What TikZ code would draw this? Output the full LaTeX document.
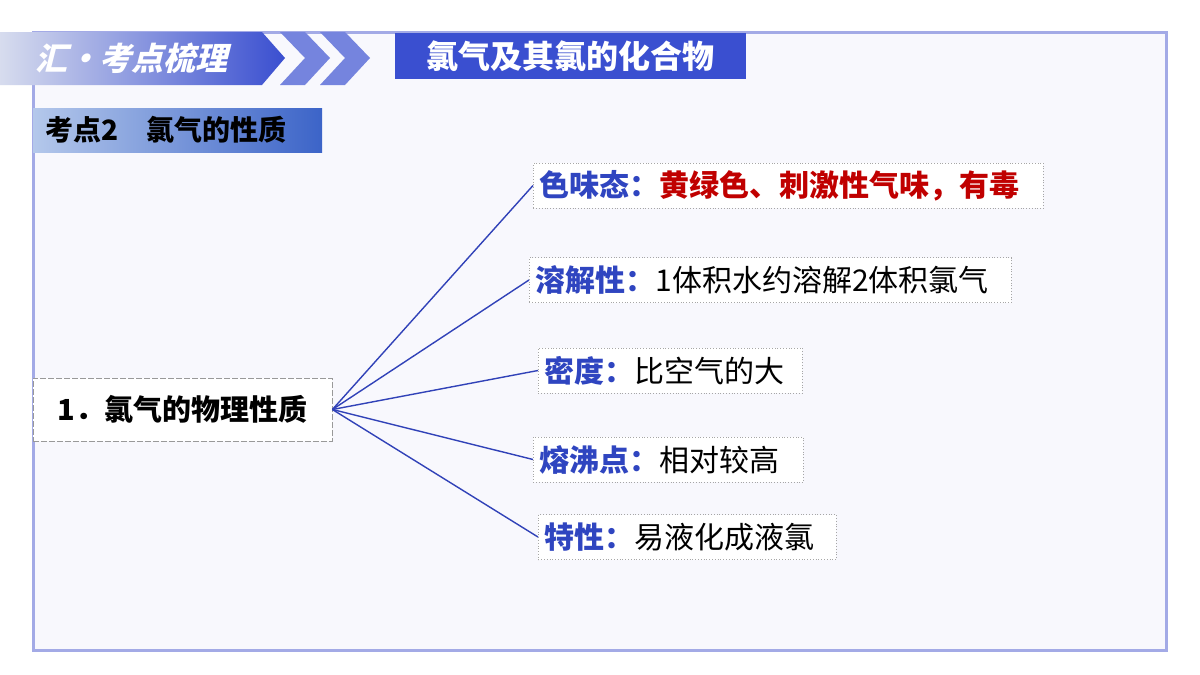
\documentclass[tikz,border=0pt]{standalone}
\usepackage{fontspec}
\setmainfont{Noto Sans CJK SC}
\usetikzlibrary{positioning}
\definecolor{frameblue}{HTML}{A3AAE6}
\definecolor{titleblue}{HTML}{3A4FD0}
\definecolor{keyblue}{HTML}{2F45C0}
\definecolor{linkblue}{HTML}{3142B8}
\definecolor{hotred}{HTML}{C00000}
\tikzset{
leaf/.style={draw=gray!70, densely dotted, fill=white, inner xsep=3pt, inner ysep=0pt, minimum height=22.5pt, anchor=west, align=left, font=\fontsize{15}{17}\selectfont},
root/.style={draw=gray!80, dash pattern=on 3pt off 1pt, fill=white, minimum width=149.5pt, minimum height=31.5pt, font=\bfseries\fontsize{14.5}{16}\selectfont},
link/.style={linkblue, line width=0.7pt},
}
\newcommand{\keyword}[1]{\textcolor{keyblue}{\bfseries #1}}
\begin{document}
\begin{tikzpicture}[x=0.5pt,y=-0.5pt]
\useasboundingbox (0,0) rectangle (1200,675);
\fill[white] (0,0) rectangle (1200,675);
% main frame
\draw[frameblue, line width=1.5pt, fill={rgb,255:red,248;green,248;blue,253}] (33,32) rectangle (1166,650);
% header banner
\shade[left color={rgb,255:red,215;green,220;blue,238}, right color=titleblue] (0,32) -- (262,32) -- (285,58) -- (262,85) -- (0,85) -- cycle;
\node[text=white, xslant=0.25, font=\bfseries\fontsize{16}{18}\selectfont] (banner) at (135,58) {汇•考点梳理};
\foreach \dx in {0,40} {
  \fill[titleblue!70] (280+\dx,32) -- (305+\dx,32) -- (330+\dx,58) -- (305+\dx,85) -- (280+\dx,85) -- (305+\dx,58) -- cycle;
}
\node[fill=titleblue, text=white, minimum width=175.5pt, minimum height=23pt, font=\bfseries\fontsize{16}{18}\selectfont] (title) at (570,56) {氯气及其氯的化合物};
% section tag
\shade[left color={rgb,255:red,180;green,200;blue,235}, right color={rgb,255:red,60;green,100;blue,200}] (33,108) rectangle (322,152);
\node[anchor=west, font=\bfseries\fontsize{14}{16}\selectfont] (tag) at (38,130) {考点2\quad 氯气的性质};
% root and leaves
\node[root] (phys) at (182.5,409.5) {1．氯气的物理性质};
\node[leaf, text width=249pt] (colour) at (533,185.5) {\keyword{色味态：}\textcolor{hotred}{\bfseries 黄绿色、刺激性气味，有毒}};
\node[leaf, text width=235pt] (solve) at (529,280) {\keyword{溶解性：}1体积水约溶解2体积氯气};
\node[leaf, text width=126pt] (dense) at (538,370.5) {\keyword{密度：}比空气的大};
\node[leaf, text width=129pt] (boil) at (533,459.5) {\keyword{熔沸点：}相对较高};
\node[leaf, text width=143pt] (trait) at (538,537) {\keyword{特性：}易液化成液氯};
\foreach \leafname in {colour,solve,dense,boil,trait}
  \draw[link] (phys.east) -- (\leafname.west);
\end{tikzpicture}
\end{document}
